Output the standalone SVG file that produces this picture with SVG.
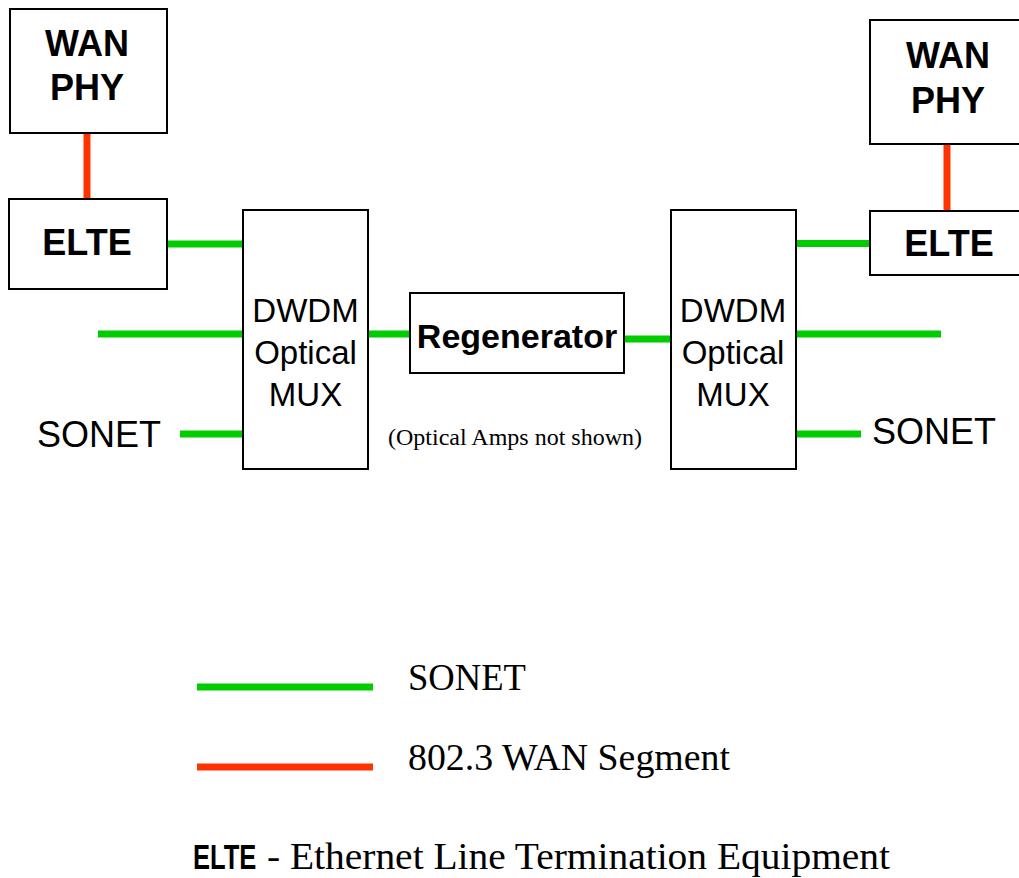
<svg xmlns="http://www.w3.org/2000/svg" width="1019" height="878" viewBox="0 0 1019 878">
<style>
.box{fill:#fff;stroke:#000;stroke-width:2}
.b{font-family:"Liberation Sans",Arial,sans-serif;font-weight:bold;font-size:36px;text-anchor:middle;fill:#000}
.r{font-family:"Liberation Sans",Arial,sans-serif;font-size:33px;text-anchor:middle;fill:#000}
.s{font-family:"Liberation Sans",Arial,sans-serif;font-size:36px;fill:#000}
.t{font-family:"Liberation Serif","Times New Roman",serif;fill:#000}
.g{stroke:#00cc00;stroke-width:7;fill:none}
.o{stroke:#ff3300;stroke-width:7;fill:none}
</style>
<rect width="1019" height="878" fill="#fff"/>
<g id="connectors">
<line class="o" x1="87" y1="133" x2="87" y2="199"/>
<line class="g" x1="166" y1="244" x2="243" y2="244"/>
<line class="g" x1="98" y1="334" x2="243" y2="334"/>
<line class="g" x1="180" y1="434" x2="243" y2="434"/>
<line class="g" x1="368" y1="334" x2="412" y2="334"/>
<line class="g" x1="624" y1="339" x2="671" y2="339"/>
<line class="o" x1="947" y1="144" x2="947" y2="211"/>
<line class="g" x1="796" y1="243.5" x2="873" y2="243.5"/>
<line class="g" x1="796" y1="334" x2="941" y2="334"/>
<line class="g" x1="796" y1="434" x2="861" y2="434"/>
</g>
<g id="wanphy-left">
<rect class="box" x="10" y="9" width="157" height="124"/>
<text class="b" x="87" y="56">WAN</text>
<text class="b" x="87" y="100">PHY</text>
</g>
<g id="elte-left">
<rect class="box" x="9" y="199" width="158" height="90"/>
<text class="b" x="87" y="255">ELTE</text>
</g>
<g id="mux-left">
<rect class="box" x="243" y="210" width="125" height="259"/>
<text class="r" x="305.5" y="322">DWDM</text>
<text class="r" x="305.5" y="364">Optical</text>
<text class="r" x="305.5" y="406">MUX</text>
</g>
<g id="sonet-left">
<text class="s" x="37" y="447">SONET</text>
</g>
<g id="regenerator">
<rect class="box" x="410" y="293" width="214" height="80"/>
<text class="b" x="517" y="348" style="font-size:34px">Regenerator</text>
</g>
<g id="note">
<text class="t" x="388" y="445" style="font-size:24px">(Optical Amps not shown)</text>
</g>
<g id="mux-right">
<rect class="box" x="671" y="210" width="125" height="259"/>
<text class="r" x="733" y="322">DWDM</text>
<text class="r" x="733" y="364">Optical</text>
<text class="r" x="733" y="406">MUX</text>
</g>
<g id="wanphy-right">
<rect class="box" x="870" y="20" width="170" height="124"/>
<text class="b" x="948" y="68">WAN</text>
<text class="b" x="948" y="113">PHY</text>
</g>
<g id="elte-right">
<rect class="box" x="870" y="211" width="170" height="64"/>
<text class="b" x="949" y="256">ELTE</text>
</g>
<g id="sonet-right">
<text class="s" x="872" y="444">SONET</text>
</g>
<g id="legend">
<line class="g" x1="197" y1="687" x2="373" y2="687"/>
<text class="t" x="408" y="690" style="font-size:37px" textLength="118" lengthAdjust="spacingAndGlyphs">SONET</text>
<line class="o" x1="197" y1="767" x2="373" y2="767"/>
<text class="t" x="408" y="770" style="font-size:37px" textLength="322" lengthAdjust="spacingAndGlyphs">802.3 WAN Segment</text>
<text class="b" transform="translate(193,869) scale(0.71,1)" x="0" y="0" style="text-anchor:start">ELTE</text>
<text class="t" x="267" y="869" style="font-size:38px" textLength="623" lengthAdjust="spacingAndGlyphs">- Ethernet Line Termination Equipment</text>
</g>
</svg>
